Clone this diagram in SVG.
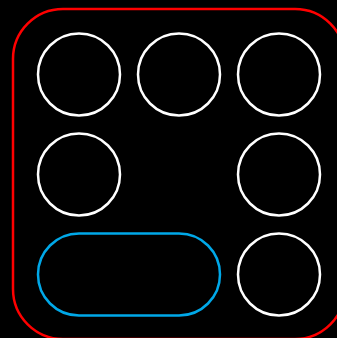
<svg xmlns="http://www.w3.org/2000/svg" width="337" height="338" viewBox="0 0 337 338">
<style>
.c{fill:none;stroke:#ffffff;stroke-width:2.5}
</style>
<rect width="337" height="338" fill="#000000"/>
<g id="frame"><rect x="13" y="9" width="332" height="330" rx="50" fill="none" stroke="#ff0000" stroke-width="2.5"/></g>
<g id="n1"><circle class="c" cx="79" cy="74.5" r="41"/></g>
<g id="n2"><circle class="c" cx="179" cy="74.5" r="41"/></g>
<g id="n3"><circle class="c" cx="279" cy="74.5" r="41"/></g>
<g id="n4"><circle class="c" cx="79" cy="174.5" r="41"/></g>
<g id="n5"><circle class="c" cx="279" cy="174.5" r="41"/></g>
<g id="n6"><rect x="38" y="233.5" width="182" height="82" rx="41" fill="none" stroke="#00a8e8" stroke-width="2.5"/></g>
<g id="n7"><circle class="c" cx="279" cy="274.5" r="41"/></g>
<g id="connectors"></g>
</svg>
